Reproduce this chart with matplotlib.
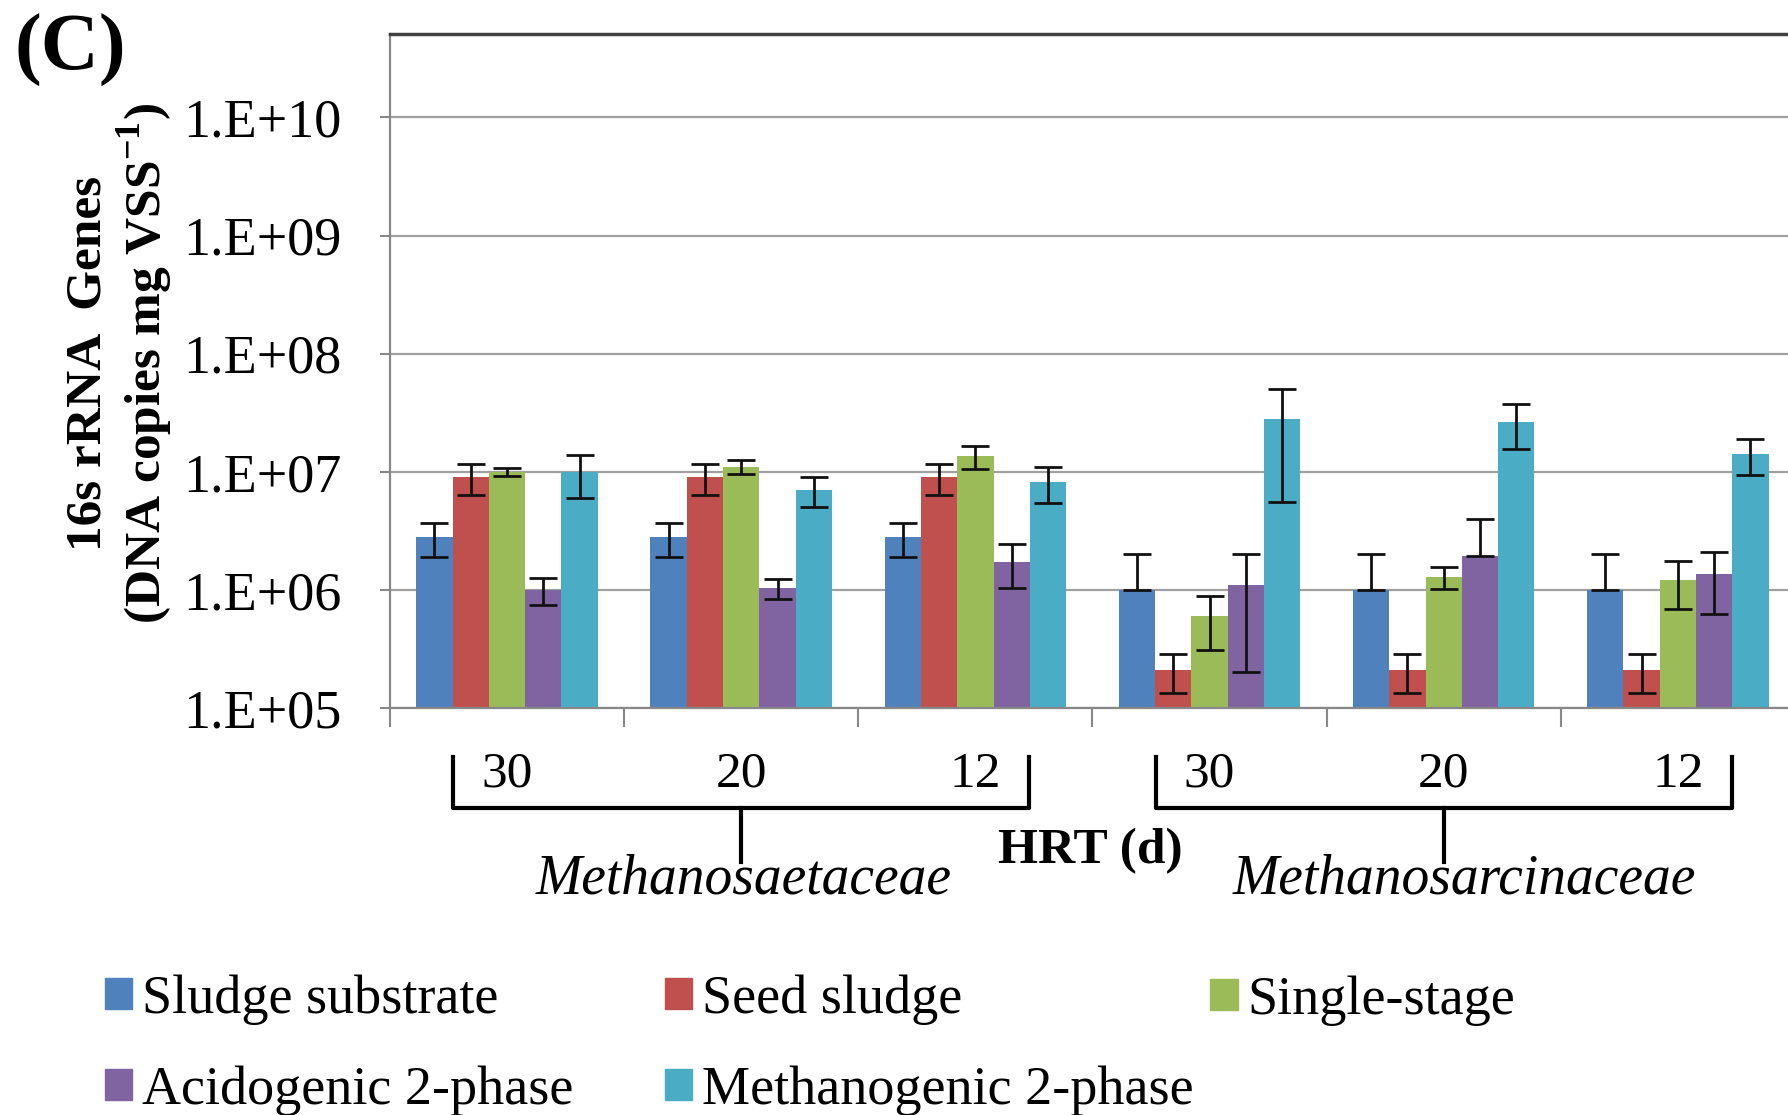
import numpy as np
import matplotlib.pyplot as plt
from matplotlib.patches import Patch
from matplotlib.lines import Line2D

plt.rcParams['font.family'] = 'Liberation Serif'
plt.rcParams['mathtext.fontset'] = 'custom'
plt.rcParams['mathtext.bf'] = 'Liberation Serif:bold'
plt.rcParams['mathtext.rm'] = 'Liberation Serif'

# HRT groups: Methanosaetaceae (30, 20, 12) then Methanosarcinaceae (30, 20, 12)
hrt_labels = ['30', '20', '12', '30', '20', '12']
series = ['Sludge substrate', 'Seed sludge', 'Single-stage',
          'Acidogenic 2-phase', 'Methanogenic 2-phase']
colors = ['#4F81BD', '#C0504D', '#9BBB59', '#8064A2', '#4BACC6']

sludge_substrate = [2.8e6, 2.8e6, 2.8e6, 1.0e6, 1.0e6, 1.0e6]
seed_sludge = [9.0e6, 9.0e6, 9.0e6, 2.1e5, 2.1e5, 2.1e5]
single_stage = [1.0e7, 1.1e7, 1.36e7, 6.0e5, 1.28e6, 1.22e6]
acidogenic = [1.0e6, 1.03e6, 1.73e6, 1.1e6, 1.94e6, 1.37e6]
methanogenic = [1.0e7, 7.0e6, 8.2e6, 2.8e7, 2.65e7, 1.42e7]

sludge_substrate_err = [0.9e6, 0.9e6, 0.9e6, 1.0e6, 1.0e6, 1.0e6]
seed_sludge_err = [2.6e6, 2.6e6, 2.6e6, 0.75e5, 0.75e5, 0.75e5]
single_stage_err = [0.8e6, 1.5e6, 3.0e6, 2.9e5, 0.27e6, 0.53e6]
acidogenic_err = [0.25e6, 0.2e6, 0.7e6, 0.9e6, 2.06e6, 0.74e6]
methanogenic_err = [4.0e6, 2.0e6, 2.8e6, 2.25e7, 1.1e7, 4.8e6]

values = [sludge_substrate, seed_sludge, single_stage, acidogenic, methanogenic]
errors = [sludge_substrate_err, seed_sludge_err, single_stage_err, acidogenic_err, methanogenic_err]

fig = plt.figure(figsize=(17.88, 11.15), dpi=100)
ax = fig.add_axes([0.2181, 0.365, 0.7858, 0.6043])

x = np.arange(len(hrt_labels))
w = 0.155
for i, (vals, errs) in enumerate(zip(values, errors)):
    vals = np.array(vals)
    errs = np.array(errs)
    lower = np.where(vals - errs > 0, errs, 0)
    pos = x + (i - 2) * w
    ax.bar(pos, vals, width=w, color=colors[i], zorder=2)
    ax.errorbar(pos, vals, yerr=[lower, errs], fmt='none', ecolor='#111111',
                elinewidth=2, capsize=10, capthick=2, zorder=3)

ax.set_yscale('log')
ax.set_ylim(1e5, 5.07e10)
ax.set_xlim(-0.5, 5.5)
ax.set_yticks([1e5, 1e6, 1e7, 1e8, 1e9, 1e10])
ax.set_yticklabels(['1.E+05', '1.E+06', '1.E+07', '1.E+08', '1.E+09', '1.E+10'])
ax.yaxis.set_minor_locator(plt.NullLocator())
ax.tick_params(axis='y', labelsize=39, length=7, width=1.5, color='#888888', pad=28)
ax.grid(axis='y', color='#A0A0A0', linewidth=1.6, zorder=0)
ax.set_axisbelow(True)

ax.set_xticks(np.arange(-0.5, 6.0, 1.0))
ax.set_xticklabels([])
ax.set_xticks(x, minor=True)
ax.set_xticklabels(hrt_labels, minor=True)
ax.tick_params(axis='x', which='major', length=14, width=1.5, color='#888888')
ax.tick_params(axis='x', which='minor', length=0, labelsize=37, pad=31)

for s in ['left', 'bottom']:
    ax.spines[s].set_color('#888888')
    ax.spines[s].set_linewidth(1.6)
ax.spines['top'].set_color('#404040')
ax.spines['top'].set_linewidth(2.5)
ax.spines['right'].set_visible(False)

ax.set_ylabel('16s rRNA  Genes\n(DNA copies mg VSS$^{\\mathbf{-1}}$)',
              fontsize=37, fontweight='bold', linespacing=1.08)
ax.yaxis.set_label_coords(-0.153, 0.512)

# group brackets below the axis
tr = ax.get_xaxis_transform()
for (a, b, mid) in [(-0.23, 2.23, 1.0), (2.77, 5.23, 4.0)]:
    ax.add_line(Line2D([a, a, b, b], [-0.073, -0.148, -0.148, -0.073], transform=tr,
                       color='black', linewidth=3, clip_on=False))
    ax.add_line(Line2D([mid, mid], [-0.148, -0.228], transform=tr,
                       color='black', linewidth=3, clip_on=False))
ax.text(1.01, -0.255, 'Methanosaetaceae', transform=tr, ha='center', va='center',
        fontsize=40, style='italic')
ax.text(4.09, -0.255, 'Methanosarcinaceae', transform=tr, ha='center', va='center',
        fontsize=40, style='italic')
ax.text(2.49, -0.212, 'HRT (d)', transform=tr, ha='center', va='center',
        fontsize=37, fontweight='bold')

fig.text(0.008, 0.955, '(C)', fontsize=58, fontweight='bold', ha='left', va='center')

handles = [Patch(color=c) for c in colors]
legend_kw = dict(frameon=False, fontsize=39, handlelength=0.5, handleheight=0.5,
                 handletextpad=0.18, labelspacing=0.75, borderpad=0, borderaxespad=0)
leg1 = fig.legend([handles[0], handles[3]], [series[0], series[3]], loc='center left',
                  bbox_to_anchor=(0.0587, 0.0625), **legend_kw)
leg2 = fig.legend([handles[1], handles[4]], [series[1], series[4]], loc='center left',
                  bbox_to_anchor=(0.372, 0.0625), **legend_kw)
leg3 = fig.legend([handles[2]], [series[2]], loc='center left',
                  bbox_to_anchor=(0.677, 0.1026), **legend_kw)

plt.savefig('out.png', dpi=100)
